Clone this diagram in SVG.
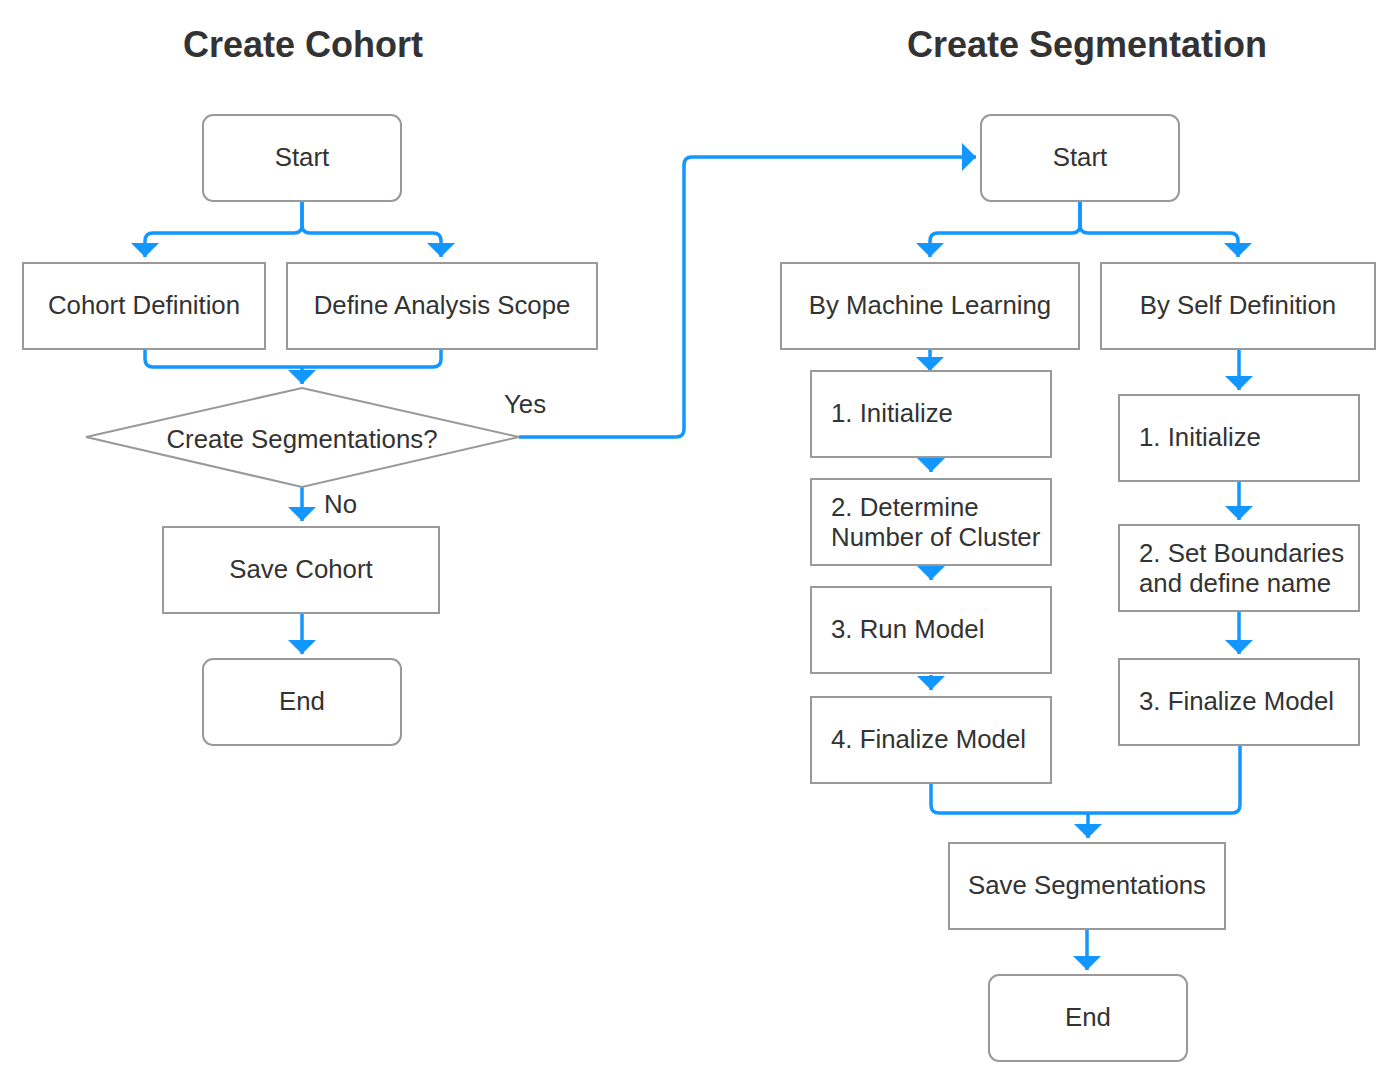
<svg xmlns="http://www.w3.org/2000/svg" width="1396" height="1088" viewBox="0 0 1396 1088">
<style>
.title{font-family:"Liberation Sans",Arial,sans-serif;font-size:36px;font-weight:bold;fill:#333;text-anchor:middle}
.t{font-family:"Liberation Sans",Arial,sans-serif;font-size:25.8px;fill:#333}
.c{text-anchor:middle}
.box{fill:#fff;stroke:#999;stroke-width:2}
.conn{fill:none;stroke:#1296ff;stroke-width:3.5;stroke-linejoin:round}
</style>
<defs>
<marker id="ah" markerUnits="userSpaceOnUse" viewBox="0 0 14 28" markerWidth="14" markerHeight="28" refX="14" refY="14" orient="auto">
<path d="M0,0 L14,14 L0,28 Z" fill="#1296ff"/>
</marker>
</defs>
<rect width="1396" height="1088" fill="#fff"/>
<text class="title" x="303" y="57">Create Cohort</text>
<text class="title" x="1087" y="57">Create Segmentation</text>

<g id="connectors">
<path class="conn" d="M302,201 V225 Q302,233 294,233 H153 Q145,233 145,241 V257" marker-end="url(#ah)"/>
<path class="conn" d="M302,201 V225 Q302,233 310,233 H433 Q441,233 441,241 V257" marker-end="url(#ah)"/>
<path class="conn" d="M145,349 V359 Q145,367 153,367 H433 Q441,367 441,359 V349"/>
<path class="conn" d="M302,367 V384" marker-end="url(#ah)"/>
<path class="conn" d="M302,487 V521" marker-end="url(#ah)"/>
<path class="conn" d="M302,613 V654" marker-end="url(#ah)"/>
<path class="conn" d="M519,437 H676 Q684,437 684,429 V165 Q684,157 692,157 H976" marker-end="url(#ah)"/>
<path class="conn" d="M1080,201 V225 Q1080,233 1072,233 H938 Q930,233 930,241 V257" marker-end="url(#ah)"/>
<path class="conn" d="M1080,201 V225 Q1080,233 1088,233 H1230 Q1238,233 1238,241 V257" marker-end="url(#ah)"/>
<path class="conn" d="M930,349 V371" marker-end="url(#ah)"/>
<path class="conn" d="M931,458 V472" marker-end="url(#ah)"/>
<path class="conn" d="M931,566 V580" marker-end="url(#ah)"/>
<path class="conn" d="M931,675 V690" marker-end="url(#ah)"/>
<path class="conn" d="M1239,349 V390" marker-end="url(#ah)"/>
<path class="conn" d="M1239,481 V520" marker-end="url(#ah)"/>
<path class="conn" d="M1239,611 V654" marker-end="url(#ah)"/>
<path class="conn" d="M931,783 V805 Q931,813 939,813 H1232 Q1240,813 1240,805 V745"/>
<path class="conn" d="M1088,813 V838" marker-end="url(#ah)"/>
<path class="conn" d="M1087,929 V970" marker-end="url(#ah)"/>
</g>

<g id="start1"><rect class="box" x="203" y="115" width="198" height="86" rx="10"/><text class="t c" x="302" y="166">Start</text></g>
<g id="cohortDef"><rect class="box" x="23" y="263" width="242" height="86"/><text class="t c" x="144" y="314">Cohort Definition</text></g>
<g id="scope"><rect class="box" x="287" y="263" width="310" height="86"/><text class="t c" x="442" y="314">Define Analysis Scope</text></g>
<g id="decision"><polygon points="302,388 519,437 302,487 86,437" fill="#fff" stroke="#999" stroke-width="2"/><text class="t c" x="302" y="448">Create Segmentations?</text></g>
<text class="t" x="504" y="413">Yes</text>
<text class="t" x="324" y="513">No</text>
<g id="saveCohort"><rect class="box" x="163" y="527" width="276" height="86"/><text class="t c" x="301" y="578">Save Cohort</text></g>
<g id="end1"><rect class="box" x="203" y="659" width="198" height="86" rx="10"/><text class="t c" x="302" y="710">End</text></g>

<g id="start2"><rect class="box" x="981" y="115" width="198" height="86" rx="10"/><text class="t c" x="1080" y="166">Start</text></g>
<g id="ml"><rect class="box" x="781" y="263" width="298" height="86"/><text class="t c" x="930" y="314">By Machine Learning</text></g>
<g id="self"><rect class="box" x="1101" y="263" width="274" height="86"/><text class="t c" x="1238" y="314">By Self Definition</text></g>
<g id="ml1"><rect class="box" x="811" y="371" width="240" height="86"/><text class="t" x="831" y="422">1. Initialize</text></g>
<g id="ml2"><rect class="box" x="811" y="479" width="240" height="86"/><text class="t" x="831" y="516">2. Determine</text><text class="t" x="831" y="546">Number of Cluster</text></g>
<g id="ml3"><rect class="box" x="811" y="587" width="240" height="86"/><text class="t" x="831" y="638">3. Run Model</text></g>
<g id="ml4"><rect class="box" x="811" y="697" width="240" height="86"/><text class="t" x="831" y="748">4. Finalize Model</text></g>
<g id="sd1"><rect class="box" x="1119" y="395" width="240" height="86"/><text class="t" x="1139" y="446">1. Initialize</text></g>
<g id="sd2"><rect class="box" x="1119" y="525" width="240" height="86"/><text class="t" x="1139" y="562">2. Set Boundaries</text><text class="t" x="1139" y="592">and define name</text></g>
<g id="sd3"><rect class="box" x="1119" y="659" width="240" height="86"/><text class="t" x="1139" y="710">3. Finalize Model</text></g>
<g id="saveSeg"><rect class="box" x="949" y="843" width="276" height="86"/><text class="t c" x="1087" y="894">Save Segmentations</text></g>
<g id="end2"><rect class="box" x="989" y="975" width="198" height="86" rx="10"/><text class="t c" x="1088" y="1026">End</text></g>
</svg>
